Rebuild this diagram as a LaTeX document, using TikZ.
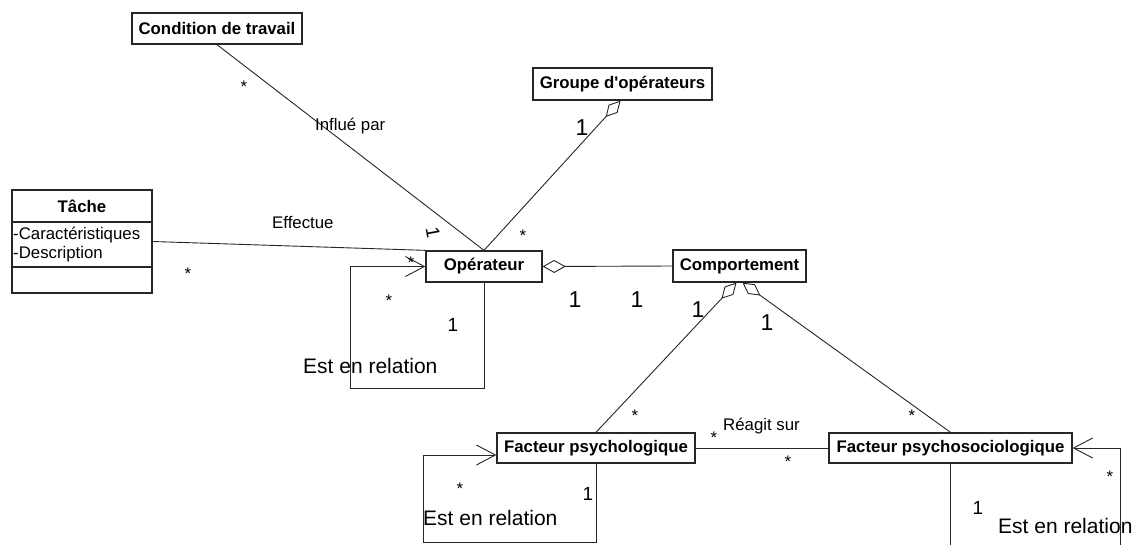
\documentclass[tikz,border=0pt]{standalone}
\usepackage{fontspec}
\setmainfont{Liberation Sans}
\usetikzlibrary{arrows.meta,calc}
\begin{document}
\begin{tikzpicture}[x=1pt,y=-1pt,
  cls/.style={draw=black!85, line width=1.3pt, fill=white, inner sep=0pt,
    font=\bfseries\fontsize{16.8}{20}\selectfont},
  conn/.style={draw=black!85, line width=0.9pt},
  lbl/.style={inner sep=0pt, font=\fontsize{16.8}{20}\selectfont},
  biglbl/.style={inner sep=0pt, font=\fontsize{21}{25}\selectfont},
  onebig/.style={inner sep=0pt, font=\fontsize{23}{27}\selectfont},
  onesmall/.style={inner sep=0pt, font=\fontsize{19}{23}\selectfont},
  ast/.style={inner sep=0pt, yshift=-3.7pt, font=\fontsize{16.8}{20}\selectfont},
  agg/.style={{Diamond[open,length=22pt,width=12pt]}-},
  nav/.style={-{Straight Barb[length=19pt,width=20pt]}}
]
\useasboundingbox (0,0) rectangle (1134,544);
\clip (0,0) rectangle (1134,544);

% classes
\node[cls, minimum width=170pt, minimum height=31pt] (cond) at (217,28.5) {Condition de travail};
\node[cls, minimum width=179pt, minimum height=32pt] (grp) at (622.5,84) {Groupe d\textquotesingle opérateurs};
\node[cls, minimum width=116pt, minimum height=31pt] (op) at (484,266.5) {Opérateur};
\node[cls, minimum width=133pt, minimum height=32pt] (comp) at (739.5,266) {Comportement};
\node[cls, minimum width=198pt, minimum height=30pt] (fp) at (596,448) {Facteur psychologique};
\node[cls, minimum width=243pt, minimum height=30pt] (fps) at (950.5,448) {Facteur psychosociologique};

% Tache class with compartments
\node[cls, minimum width=140pt, minimum height=103pt] (tache) at (82,241.5) {};
\coordinate (t1l) at (12,222); \coordinate (t1r) at (152,222);
\coordinate (t2l) at (12,267); \coordinate (t2r) at (152,267);
\draw[draw=black!85, line width=1.3pt] (t1l) -- (t1r) (t2l) -- (t2r);
\node[inner sep=0pt, font=\bfseries\fontsize{16.8}{20}\selectfont] (ttitle) at (82,206) {Tâche};
\node[lbl, anchor=base west] (tattr1) at (13,239) {-Caractéristiques};
\node[lbl, anchor=base west] (tattr2) at (13,258) {-Description};

% connectors
\draw[conn] (cond.south) -- (op.north);
\draw[conn, agg] ($(grp.south)+(-2,0)$) -- (op.north);
\draw[conn] (tache.east) -- (op.north west);
\draw[conn, {Diamond[open,length=23pt,width=13pt]}-] (op.east) -- (comp.west);
\draw[conn, nav] (op.south) |- (350,388) |- (op.west);
\draw[conn, agg] ($(comp.south)+(-3,0)$) -- (fp.north);
\draw[conn, agg] ($(comp.south)+(3,0)$) -- (fps.north);
\draw[conn] (fp.east) -- (fps.west);
\draw[conn, nav] (fp.south) |- (423,542) |- ($(fp.west)+(0,7)$);
\draw[conn, nav] (fps.south) |- (1120,570) |- (fps.east);

% association labels
\node[lbl, anchor=base west] (linf) at (315,130) {Influé par};
\node[lbl, anchor=base west] (leff) at (272,228) {Effectue};
\node[lbl, anchor=base west] (lrea) at (723,430) {Réagit sur};
\node[biglbl, anchor=base west] (lrel1) at (303,373) {Est en relation};
\node[biglbl, anchor=base west] (lrel2) at (423,525) {Est en relation};
\node[biglbl, anchor=base west] (lrel3) at (998,533) {Est en relation};

% multiplicities
\node[ast] (m1) at (244,83) {*};
\node[onesmall, rotate=-80] (m2) at (433,233) {1};
\node[onebig] (m3) at (582,128) {1};
\node[ast] (m4) at (523,232) {*};
\node[ast] (m5) at (188,270) {*};
\node[ast] (m6) at (411,259) {*};
\node[ast] (m7) at (389,297) {*};
\node[onesmall] (m8) at (453,325) {1};
\node[onebig] (m9) at (575,300) {1};
\node[onebig] (m10) at (637,300) {1};
\node[onebig] (m11) at (698,310) {1};
\node[onebig] (m12) at (767,323) {1};
\node[ast] (m13) at (635,412) {*};
\node[ast] (m14) at (714,434) {*};
\node[ast] (m15) at (788,458) {*};
\node[ast] (m16) at (912,412) {*};
\node[ast] (m17) at (460,485) {*};
\node[onesmall] (m18) at (588,494) {1};
\node[onesmall] (m19) at (978,508) {1};
\node[ast] (m20) at (1110,473) {*};
\end{tikzpicture}
\end{document}
